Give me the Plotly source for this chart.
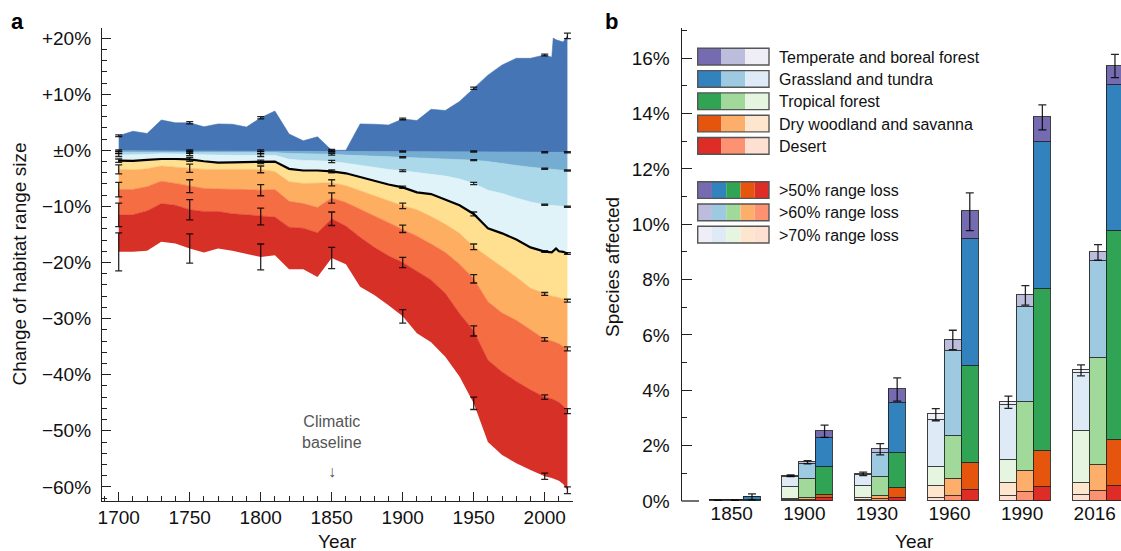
import plotly.graph_objects as go

W, H = 1121, 551
FONT = "Liberation Sans, Arial, Helvetica, sans-serif"

# ---------------- Panel a data ----------------
years = [1700, 1710, 1720, 1730, 1740, 1750, 1760, 1770, 1780, 1790, 1800, 1810,
         1820, 1830, 1840, 1850, 1860, 1870, 1880, 1890, 1900, 1910, 1920, 1930,
         1940, 1950, 1960, 1970, 1980, 1990, 2000, 2005, 2006, 2008, 2010, 2013, 2016]

# boundaries from top (b0) to bottom (b8); b4 is the median (black line)
b0 = [2.6, 3.4, 3.0, 5.4, 4.9, 4.9, 4.2, 4.7, 4.65, 4.15, 5.8, 7.0,
      2.9, 1.7, 2.4, 0.0, 0.0, 4.7, 4.65, 4.5, 5.6, 5.3, 7.3, 7.1,
      8.7, 11.05, 13.4, 15.2, 16.4, 16.4, 17.0, 16.6, 20.0, 19.7, 19.5, 19.3, 20.4]
b1 = [-0.08, -0.08, -0.06, -0.05, -0.05, -0.06, -0.08, -0.08, -0.08, -0.08, -0.08, -0.1,
      -0.15, -0.18, -0.2, -0.2, -0.2, -0.2, -0.2, -0.2, -0.2, -0.2, -0.2, -0.2,
      -0.2, -0.2, -0.22, -0.24, -0.26, -0.3, -0.35, -0.35, -0.35, -0.35, -0.35, -0.36, -0.36]
b2 = [-0.35, -0.35, -0.3, -0.3, -0.3, -0.35, -0.4, -0.4, -0.4, -0.4, -0.4, -0.4,
      -0.55, -0.6, -0.6, -0.7, -0.85, -0.95, -1.05, -1.15, -1.25, -1.35, -1.45, -1.5,
      -1.6, -1.75, -2.0, -2.4, -2.7, -3.0, -3.3, -3.35, -3.4, -3.45, -3.5, -3.55, -3.6]
b3 = [-0.85, -0.85, -0.75, -0.6, -0.6, -0.7, -0.8, -0.9, -0.9, -0.9, -0.85, -0.9,
      -1.6, -1.8, -1.85, -2.0, -2.3, -2.7, -3.0, -3.4, -3.65, -4.0, -4.3, -4.6,
      -5.1, -5.9, -7.1, -7.7, -8.5, -9.2, -9.7, -9.8, -9.8, -9.85, -9.9, -10.0, -10.05]
b4 = [-1.85, -1.9, -1.7, -1.55, -1.55, -1.6, -1.95, -2.2, -2.15, -2.1, -2.05, -2.0,
      -3.3, -3.6, -3.6, -3.75, -4.1, -4.8, -5.4, -6.1, -6.6, -7.5, -7.8, -8.8,
      -9.8, -11.35, -13.9, -14.8, -15.9, -17.3, -18.05, -18.2, -17.9, -17.5, -18.0, -18.1, -18.4]
b5 = [-3.4, -3.5, -3.3, -2.8, -3.0, -3.2, -3.4, -3.4, -3.4, -3.5, -3.4, -3.8,
      -5.6, -5.9, -5.9, -5.8, -6.3, -7.2, -8.1, -9.0, -9.9, -10.6, -11.8, -13.2,
      -14.8, -17.2, -19.0, -20.8, -22.6, -24.6, -25.6, -26.0, -26.0, -26.2, -26.3, -26.5, -26.8]
b6 = [-7.0, -7.0, -6.5, -5.5, -5.9, -6.4, -6.8, -6.9, -6.9, -7.0, -7.1, -7.0,
      -9.1, -9.5, -10.2, -8.5, -9.3, -10.5, -11.6, -12.8, -14.0, -15.3, -16.7, -18.2,
      -20.3, -22.9, -27.0, -29.0, -30.3, -32.0, -33.7, -34.0, -34.1, -34.3, -34.5, -35.0, -35.4]
b7 = [-11.5, -11.5, -10.8, -9.5, -9.8, -10.6, -10.9, -10.9, -11.3, -11.5, -11.8, -11.9,
      -13.7, -13.9, -14.7, -12.2, -13.5, -15.5, -17.3, -18.8, -20.0, -21.5, -23.1, -25.5,
      -29.1, -32.2, -37.4, -39.5, -41.2, -42.7, -44.0, -44.3, -44.4, -44.6, -44.9, -45.6, -46.5]
b8 = [-18.1, -18.1, -17.9, -16.3, -16.6, -17.5, -18.2, -17.5, -17.9, -18.5, -19.0, -18.7,
      -21.2, -21.2, -22.6, -19.2, -20.3, -24.3, -25.8, -27.6, -29.6, -32.6, -34.2, -36.8,
      -40.3, -45.1, -52.0, -54.3, -55.8, -57.0, -58.1, -58.4, -58.5, -58.6, -58.9, -59.5, -60.6]

err_years = [1700, 1750, 1800, 1850, 1900, 1950, 2000, 2016]
e0 = [0.15, 0.2, 0.2, 0.15, 0.15, 0.2, 0.15, 0.5]
e1 = [0.15, 0.15, 0.15, 0.1, 0.1, 0.1, 0.1, 0.1]
e2 = [0.2, 0.2, 0.2, 0.15, 0.1, 0.1, 0.1, 0.1]
e3 = [0.25, 0.25, 0.25, 0.2, 0.15, 0.2, 0.1, 0.1]
e4 = [0.3, 0.35, 0.3, 0.25, 0.2, 0.35, 0.15, 0.15]
e5 = [0.8, 0.75, 0.6, 0.55, 0.5, 0.5, 0.25, 0.25]
e6 = [1.3, 1.15, 1.0, 0.9, 0.65, 0.75, 0.3, 0.35]
e7 = [2.1, 1.8, 1.5, 1.2, 0.9, 0.9, 0.4, 0.45]
e8 = [3.4, 2.6, 2.3, 1.9, 1.2, 1.1, 0.55, 0.6]

# band colours, top band first (b0-b1) ... bottom band last (b7-b8)
band_colors = ["#4575b4", "#74add1", "#abd9e9", "#e0f3f8",
               "#fee090", "#fdae61", "#f46d43", "#d73027"]

a_yticks = [20, 10, 0, -10, -20, -30, -40, -50, -60]
a_yticklabels = ["+20%", "+10%", "±0%", "−10%", "−20%", "−30%", "−40%", "−50%", "−60%"]

# ---------------- Panel b data ----------------
groups = ["1850", "1900", "1930", "1960", "1990", "2016"]
regions = ["Temperate and boreal forest", "Grassland and tundra", "Tropical forest",
           "Dry woodland and savanna", "Desert"]
# colours per region: [>50% (dark), >60% (medium), >70% (light)]
region_colors = {
    "Temperate and boreal forest": ["#756bb1", "#bcbddc", "#efedf5"],
    "Grassland and tundra": ["#3182bd", "#9ecae1", "#deebf7"],
    "Tropical forest": ["#31a354", "#a1d99b", "#e5f5e0"],
    "Dry woodland and savanna": ["#e6550d", "#fdae6b", "#fee6ce"],
    "Desert": ["#de2d26", "#fc9272", "#fee0d2"],
}
thresholds = [">50% range loss", ">60% range loss", ">70% range loss"]

# >70% range loss (left bars)
desert_70 = [0.005, 0.02, 0.03, 0.10, 0.18, 0.22]
dry_70 = [0.0, 0.03, 0.05, 0.42, 0.46, 0.43]
trop_70 = [0.005, 0.45, 0.45, 0.68, 0.83, 1.88]
grass_70 = [0.0, 0.35, 0.39, 1.72, 2.00, 2.07]
temp_70 = [0.0, 0.06, 0.06, 0.20, 0.10, 0.12]
err_70 = [0.01, 0.03, 0.06, 0.22, 0.22, 0.20]
# >60% range loss (middle bars)
desert_60 = [0.0, 0.03, 0.05, 0.18, 0.30, 0.35]
dry_60 = [0.0, 0.07, 0.12, 0.62, 0.78, 0.93]
trop_60 = [0.01, 0.67, 0.69, 1.55, 2.47, 3.89]
grass_60 = [0.01, 0.55, 0.85, 3.05, 3.45, 3.50]
temp_60 = [0.0, 0.08, 0.16, 0.42, 0.43, 0.31]
err_60 = [0.01, 0.06, 0.20, 0.35, 0.35, 0.28]
# >50% range loss (right bars)
desert_50 = [0.0, 0.10, 0.10, 0.38, 0.50, 0.53]
dry_50 = [0.0, 0.10, 0.36, 0.99, 1.28, 1.67]
trop_50 = [0.02, 1.01, 1.25, 3.50, 5.86, 7.56]
grass_50 = [0.12, 1.04, 1.82, 4.58, 5.32, 5.27]
temp_50 = [0.01, 0.27, 0.50, 1.00, 0.90, 0.69]
err_50 = [0.11, 0.22, 0.42, 0.68, 0.45, 0.42]

b_yticks = list(range(0, 17, 2))

# ---------------- build figure ----------------
fig = go.Figure()

bounds = [b0, b1, b2, b3, b4, b5, b6, b7, b8]
errs = [e0, e1, e2, e3, e4, e5, e6, e7, e8]

# stacked bands: draw bottom boundary first, then fill upward
fig.add_trace(go.Scatter(x=years, y=b8, mode="lines", line=dict(width=0, color=band_colors[7]),
                         showlegend=False, hoverinfo="skip", xaxis="x", yaxis="y"))
for k in range(7, -1, -1):
    fig.add_trace(go.Scatter(x=years, y=bounds[k], mode="lines",
                             line=dict(width=0.6, color=band_colors[k]),
                             fill="tonexty", fillcolor=band_colors[k],
                             showlegend=False, hoverinfo="skip", xaxis="x", yaxis="y"))

# median line
fig.add_trace(go.Scatter(x=years, y=b4, mode="lines", line=dict(width=2.2, color="black"),
                         showlegend=False, hoverinfo="skip", xaxis="x", yaxis="y"))

# error bars
for bnd, er in zip(bounds, errs):
    yy = [bnd[years.index(yr)] for yr in err_years]
    fig.add_trace(go.Scatter(x=err_years, y=yy, mode="markers",
                             marker=dict(size=1, color="rgba(0,0,0,0)"),
                             error_y=dict(type="data", array=er, color="rgba(0,0,0,0.85)",
                                          thickness=1.3, width=3.5),
                             showlegend=False, hoverinfo="skip", xaxis="x", yaxis="y"))

# panel b bars
bw = 0.234
sets = [
    (-bw, 2, [desert_70, dry_70, trop_70, grass_70, temp_70], err_70),
    (0.0, 1, [desert_60, dry_60, trop_60, grass_60, temp_60], err_60),
    (bw, 0, [desert_50, dry_50, trop_50, grass_50, temp_50], err_50),
]
stack_order = ["Desert", "Dry woodland and savanna", "Tropical forest",
               "Grassland and tundra", "Temperate and boreal forest"]
for off, shade, vals, er in sets:
    xs = [i + off for i in range(len(groups))]
    for reg, v in zip(stack_order, vals):
        fig.add_trace(go.Bar(x=xs, y=v, width=bw, marker=dict(color=region_colors[reg][shade],
                                                             line=dict(color="rgba(30,30,30,0.85)", width=1.2)),
                             showlegend=False, hoverinfo="skip", xaxis="x2", yaxis="y2"))
    totals = [sum(t) for t in zip(*vals)]
    fig.add_trace(go.Scatter(x=xs, y=totals, mode="markers",
                             marker=dict(size=1, color="rgba(0,0,0,0)"),
                             error_y=dict(type="data", array=er, color="rgba(0,0,0,0.85)",
                                          thickness=1.3, width=4),
                             showlegend=False, hoverinfo="skip", xaxis="x2", yaxis="y2"))


def px(x):
    return x / W


def py(y):
    return 1 - y / H


axis_col = "#222222"
tickfont = dict(family=FONT, size=19, color="#111111")

fig.update_layout(
    template="none",
    width=W, height=H, margin=dict(l=0, r=0, t=0, b=0, pad=0, autoexpand=False), autosize=False,
    paper_bgcolor="white", plot_bgcolor="white", barmode="stack", bargap=0,
    font=dict(family=FONT, color="#111111"),
    showlegend=False,
    xaxis=dict(domain=[px(102), px(573)], range=[1688.24, 2019.93], anchor="y", automargin=False,
               showline=True, linecolor=axis_col, linewidth=1.3,
               ticks="inside", ticklen=9, tickwidth=1.2, tickcolor=axis_col,
               tick0=1700, dtick=50, tickfont=tickfont, showgrid=False, zeroline=False,
               ticklabelstandoff=-1,
               minor=dict(ticks="inside", ticklen=5, tickwidth=1.1, tickcolor=axis_col,
                          tick0=1700, dtick=10, showgrid=False)),
    yaxis=dict(domain=[py(500.7), py(28.3)], range=[-62.46, 21.75], anchor="x", automargin=False,
               showline=True, linecolor=axis_col, linewidth=1.3,
               ticks="inside", ticklen=9, tickwidth=1.2, tickcolor=axis_col,
               tickmode="array", tickvals=a_yticks, ticktext=a_yticklabels,
               tickfont=tickfont, showgrid=False, zeroline=False, ticklabelstandoff=6,
               minor=dict(ticks="inside", ticklen=5, tickwidth=1.1, tickcolor=axis_col,
                          tickmode="linear", tick0=0, dtick=2, showgrid=False)),
    xaxis2=dict(domain=[px(681.7), 1.0], range=[-0.734, 5.317], anchor="y2", automargin=False,
                showline=False, ticks="", tickmode="array",
                tickvals=[i - 0.045 for i in range(len(groups))], ticktext=groups,
                tickfont=tickfont, showgrid=False, zeroline=False, ticklabelstandoff=-1),
    yaxis2=dict(domain=[py(501), py(28.3)], range=[0, 17.08], anchor="x2", automargin=False,
                showline=True, linecolor=axis_col, linewidth=1.3,
                ticks="inside", ticklen=10, tickwidth=1.2, tickcolor=axis_col,
                tickmode="array", tickvals=b_yticks, ticktext=[f"{v}%" for v in b_yticks],
                tickfont=tickfont, showgrid=False, zeroline=False, ticklabelstandoff=7,
                minor=dict(ticks="inside", ticklen=5, tickwidth=1.1, tickcolor=axis_col,
                           tickmode="linear", tick0=0, dtick=1, showgrid=False)),
)

txtfont = dict(size=19, family=FONT, color="#111111")
ann = []


def add_text(text, x, y, **kw):
    d = dict(text=text, x=px(x), y=py(y), xref="paper", yref="paper", showarrow=False,
             xanchor="center", yanchor="middle", font=txtfont)
    d.update(kw)
    ann.append(d)


add_text("<b>a</b>", 17, 22, font=dict(size=22, family=FONT, color="black"))
add_text("<b>b</b>", 611, 22, font=dict(size=22, family=FONT, color="black"))
add_text("Change of habitat range size", 19, 264.5, textangle=-90)
add_text("Species affected", 612, 267, textangle=-90)
add_text("Year", 337.5, 541)
add_text("Year", 915, 541)
ann.append(dict(text="Climatic<br>baseline", x=1850, y=-50.2, xref="x", yref="y",
                showarrow=False, xanchor="center", yanchor="middle",
                font=dict(size=16, family=FONT, color="#555555")))
ann.append(dict(text="↓", x=1850, y=-57.3, xref="x", yref="y",
                showarrow=False, xanchor="center", yanchor="middle",
                font=dict(size=16, family=FONT, color="#555555")))

shapes = []
# zero tick stub of panel b
shapes.append(dict(type="line", xref="paper", yref="paper", x0=px(681.7), x1=px(699),
                   y0=py(501), y1=py(501), line=dict(color=axis_col, width=1.3)))

# legend of panel b
lx0, lw, lh = 697.7, 71.3, 16.7
legfont = dict(size=16, family=FONT, color="#111111")
row_tops = [48.3, 70.6, 92.9, 115.2, 137.5]
for reg, top in zip(regions, row_tops):
    cw = lw / 3
    for j in range(3):
        shapes.append(dict(type="rect", xref="paper", yref="paper",
                           x0=px(lx0 + j * cw), x1=px(lx0 + (j + 1) * cw),
                           y0=py(top + lh), y1=py(top), fillcolor=region_colors[reg][j],
                           line=dict(width=0)))
    shapes.append(dict(type="rect", xref="paper", yref="paper", x0=px(lx0), x1=px(lx0 + lw),
                       y0=py(top + lh), y1=py(top), line=dict(color="#555555", width=1.4)))
    add_text(reg, 776.5, top + lh / 2 + 0.5, xanchor="left", font=legfont)

thr_tops = [181.7, 204.0, 226.3]
for shade, (thr, top) in enumerate(zip(thresholds, thr_tops)):
    cw = lw / 5
    for j, reg in enumerate(regions):
        shapes.append(dict(type="rect", xref="paper", yref="paper",
                           x0=px(lx0 + j * cw), x1=px(lx0 + (j + 1) * cw),
                           y0=py(top + lh), y1=py(top), fillcolor=region_colors[reg][shade],
                           line=dict(width=0)))
    shapes.append(dict(type="rect", xref="paper", yref="paper", x0=px(lx0), x1=px(lx0 + lw),
                       y0=py(top + lh), y1=py(top), line=dict(color="#555555", width=1.4)))
    add_text(thr, 776.5, top + lh / 2 + 0.5, xanchor="left", font=legfont)

fig.update_layout(annotations=ann, shapes=shapes)

post = (
    "document.documentElement.style.margin='0px';"
    "document.documentElement.style.padding='0px';"
    "document.documentElement.style.overflow='hidden';"
    "document.body.style.margin='0px';"
    "document.body.style.padding='0px';"
    "document.body.style.overflow='hidden';"
    "var gd=document.getElementById('{plot_id}');"
    "gd.style.position='fixed';gd.style.left='0px';gd.style.top='0px';"
)

fig.write_html("out.html", config={"displayModeBar": False}, post_script=post)
